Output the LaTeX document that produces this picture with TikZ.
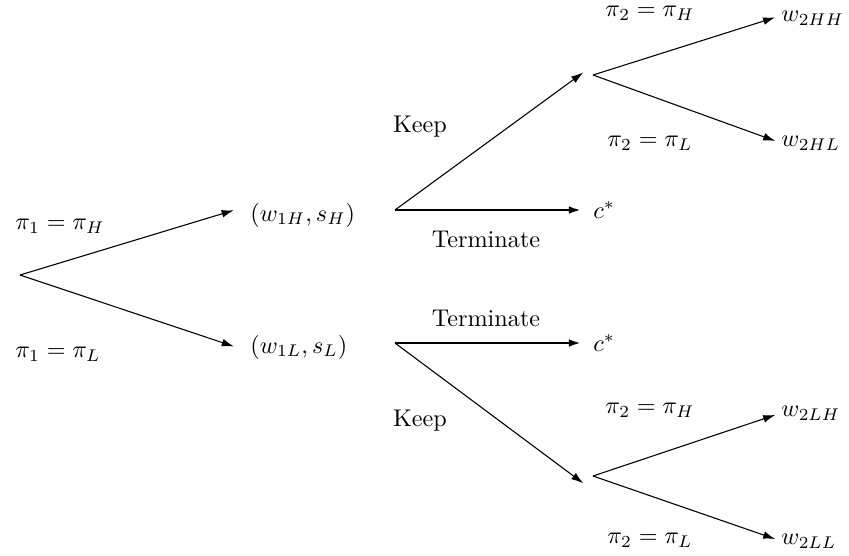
\documentclass[tikz,border=0pt]{standalone}
\usepackage{amsmath,amssymb}
\usepackage{tikz}
\usetikzlibrary{arrows.meta, positioning}

\begin{document}
\begin{tikzpicture}[
    x=0.413pt, y=-0.413pt,
    outcome/.style={anchor=west, inner sep=0pt},
    lbl/.style={inner sep=0pt},
    arr/.style={-{Latex[length=5pt,width=3.2pt]}, line width=0.45pt},
    term/.style={arr, line width=0.9pt}
  ]
    \useasboundingbox (0,0) rectangle (849,555);
    % vertices
    \coordinate (root) at (20,275);
    \coordinate (d1) at (395,210);
    \coordinate (d2) at (395,343);
    \coordinate (c1) at (593,75);
    \coordinate (c2) at (593,476);
    % first period
    \node[outcome] (sH) at (250,215) {$(w_{1H},s_H)$};
    \node[outcome] (sL) at (250,347) {$(w_{1L},s_L)$};
    \node[lbl] (p1H) at (60,226) {$\pi_1=\pi_H$};
    \node[lbl] (p1L) at (58,354) {$\pi_1=\pi_L$};
    \draw[arr, shorten >=7pt] (root) -- ([yshift=4pt]sH.west);
    \draw[arr, shorten >=7pt] (root) -- ([yshift=-2pt]sL.west);
    % decisions
    \node[outcome] (cH) at (593,210) {$c^*$};
    \node[outcome] (cL) at (593,343) {$c^*$};
    \node[lbl] (keepH) at (420,127) {Keep};
    \node[lbl] (termH) at (486,239) {Terminate};
    \node[lbl] (termL) at (486,318) {Terminate};
    \node[lbl] (keepL) at (420,421) {Keep};
    \draw[arr, shorten >=5pt] (d1) -- ([yshift=4pt]c1);
    \draw[term, shorten >=5pt] (d1) -- (cH.west);
    \draw[term, shorten >=5pt] (d2) -- (cL.west);
    \draw[arr, shorten >=5pt] (d2) -- ([yshift=-6pt]c2);
    % second period
    \node[outcome] (wHH) at (781,18) {$w_{2HH}$};
    \node[outcome] (wHL) at (781,143) {$w_{2HL}$};
    \node[outcome] (wLH) at (781,413) {$w_{2LH}$};
    \node[outcome] (wLL) at (781,541) {$w_{2LL}$};
    \node[lbl] (p2HH) at (650,13) {$\pi_2=\pi_H$};
    \node[lbl] (p2HL) at (650,143) {$\pi_2=\pi_L$};
    \node[lbl] (p2LH) at (650,410) {$\pi_2=\pi_H$};
    \node[lbl] (p2LL) at (650,540) {$\pi_2=\pi_L$};
    \draw[arr, shorten >=2.5pt] (c1) -- ([yshift=1pt]wHH.west);
    \draw[arr, shorten >=2.5pt] (c1) -- (wHL.west);
    \draw[arr, shorten >=2.5pt] (c2) -- (wLH.west);
    \draw[arr, shorten >=2.5pt] (c2) -- (wLL.west);
  \end{tikzpicture}
\end{document}
